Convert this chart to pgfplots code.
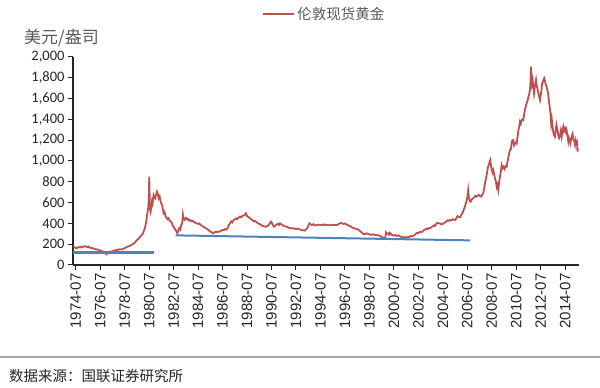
\documentclass[border=0pt]{standalone}
\usepackage{fontspec}
\usepackage{pgfplots}
\pgfplotsset{compat=1.18}
\setmainfont{Carlito}
\newfontfamily\cjk{Noto Sans CJK SC}
\newfontfamily\arialf{Liberation Sans}
\definecolor{goldred}{HTML}{C0504D}
\definecolor{lineblue}{HTML}{4F81BD}
\definecolor{txtgray}{HTML}{595959}
\begin{document}
\begin{tikzpicture}[x=1pt,y=1pt]
\useasboundingbox (0,0) rectangle (600,388);
\begin{axis}[
  at={(73pt,123pt)}, anchor=south west,
  scale only axis, width=505.7pt, height=208pt,
  xmin=1974.28, xmax=2015.6, ymin=0, ymax=2000,
  axis lines*=left,
  axis line style={line width=1.2pt, black!85},
  ytick={0,200,400,600,800,1000,1200,1400,1600,1800,2000},
  xtick={1974.5,1976.5,1978.5,1980.5,1982.5,1984.5,1986.5,1988.5,1990.5,1992.5,1994.5,1996.5,1998.5,2000.5,2002.5,2004.5,2006.5,2008.5,2010.5,2012.5,2014.5},
  xticklabels={1974-07,1976-07,1978-07,1980-07,1982-07,1984-07,1986-07,1988-07,1990-07,1992-07,1994-07,1996-07,1998-07,2000-07,2002-07,2004-07,2006-07,2008-07,2010-07,2012-07,2014-07},
  tick align=outside, major tick length=5pt,
  tick style={line width=1pt, black!85},
  /pgf/number format/.cd, 1000 sep={,}, assume math mode=true, /pgfplots/.cd,
  y tick label style={font=\fontsize{14.5}{14.5}\selectfont, text=black!85},
  x tick label style={rotate=90, anchor=east, font=\arialf\fontsize{15}{15}\selectfont, text=black!85},
  legend style={at={(0.374,1.207)}, anchor=west, draw=none, fill=none,
    font=\cjk\fontsize{14.5}{14.5}\selectfont, text=txtgray, inner sep=0pt},
  legend image code/.code={\draw[#1, line width=2pt] (0pt,0pt) -- (31pt,0pt);},
]
\addplot[goldred, line width=1.8pt] coordinates {
(1974.28,186)(1974.36,175)(1974.45,168)(1974.55,160)(1974.65,166)(1974.75,172)(1974.85,168)(1974.95,175)
(1975.05,170)(1975.15,178)(1975.26,180)(1975.35,176)(1975.45,172)(1975.55,178)(1975.65,168)(1975.75,162)
(1975.85,165)(1975.95,158)(1976.05,155)(1976.15,150)(1976.25,152)(1976.35,146)(1976.45,142)(1976.55,138)
(1976.65,132)(1976.75,130)(1976.85,122)(1976.95,112)(1977.03,103)(1977.12,118)(1977.22,125)(1977.32,130)
(1977.45,128)(1977.55,135)(1977.7,140)(1977.85,144)(1978.0,148)(1978.15,152)(1978.3,150)(1978.45,160)
(1978.6,168)(1978.7,176)(1978.85,180)(1979.0,188)(1979.1,198)(1979.2,205)(1979.3,210)(1979.4,225)
(1979.5,240)(1979.6,248)(1979.7,262)(1979.8,275)(1979.9,288)(1980.0,305)(1980.08,330)(1980.16,360)
(1980.24,400)(1980.3,450)(1980.36,500)(1980.42,545)(1980.47,620)(1980.51,850)(1980.54,680)(1980.57,540)
(1980.62,513)(1980.68,560)(1980.73,609)(1980.78,590)(1980.86,673)(1980.94,650)(1981.0,641)(1981.08,680)
(1981.14,705)(1981.2,690)(1981.28,641)(1981.36,660)(1981.44,610)(1981.5,590)(1981.56,577)(1981.62,540)
(1981.68,497)(1981.76,510)(1981.84,470)(1981.92,455)(1982.0,440)(1982.08,450)(1982.16,430)(1982.24,420)
(1982.34,410)(1982.42,380)(1982.5,368)(1982.58,350)(1982.66,337)(1982.74,320)(1982.8,305)(1982.88,330)
(1982.96,353)(1983.05,340)(1983.12,385)(1983.2,400)(1983.26,481)(1983.3,450)(1983.36,440)(1983.42,433)
(1983.5,455)(1983.58,449)(1983.66,435)(1983.74,440)(1983.82,425)(1983.9,430)(1984.0,420)(1984.1,425)
(1984.2,410)(1984.3,405)(1984.4,400)(1984.5,395)(1984.6,400)(1984.7,385)(1984.8,380)(1984.9,370)
(1985.0,365)(1985.1,355)(1985.2,350)(1985.3,340)(1985.4,330)(1985.5,322)(1985.6,315)(1985.7,305)
(1985.8,310)(1985.9,318)(1986.0,315)(1986.1,322)(1986.2,318)(1986.3,325)(1986.4,330)(1986.5,337)
(1986.6,335)(1986.7,345)(1986.8,340)(1986.9,352)(1987.0,380)(1987.1,400)(1987.2,420)(1987.3,410)
(1987.4,433)(1987.5,440)(1987.6,449)(1987.7,440)(1987.8,455)(1987.9,465)(1988.0,458)(1988.1,470)
(1988.2,475)(1988.3,480)(1988.41,497)(1988.5,470)(1988.6,462)(1988.74,449)(1988.85,440)(1988.95,430)
(1989.05,420)(1989.15,425)(1989.29,410)(1989.4,400)(1989.5,395)(1989.6,390)(1989.7,380)(1989.83,375)
(1989.95,370)(1990.05,368)(1990.15,375)(1990.24,380)(1990.35,400)(1990.45,417)(1990.51,410)(1990.6,385)
(1990.7,368)(1990.78,375)(1990.9,390)(1991.0,395)(1991.1,385)(1991.19,400)(1991.3,390)(1991.4,385)
(1991.5,375)(1991.6,372)(1991.74,368)(1991.85,360)(1991.95,358)(1992.05,355)(1992.15,352)(1992.28,353)
(1992.4,350)(1992.5,345)(1992.6,350)(1992.7,348)(1992.8,342)(1992.9,338)(1993.0,335)(1993.1,335)
(1993.2,330)(1993.3,340)(1993.4,350)(1993.5,375)(1993.6,400)(1993.7,390)(1993.8,385)(1993.91,392)
(1994.0,385)(1994.1,380)(1994.2,385)(1994.3,388)(1994.46,385)(1994.6,383)(1994.7,388)(1994.8,385)
(1994.9,390)(1995.0,384)(1995.15,382)(1995.28,385)(1995.4,387)(1995.5,383)(1995.6,385)(1995.7,386)
(1995.8,384)(1995.9,388)(1996.0,395)(1996.09,400)(1996.2,405)(1996.3,398)(1996.4,395)(1996.5,400)
(1996.6,392)(1996.7,385)(1996.8,380)(1996.9,375)(1997.0,368)(1997.1,360)(1997.2,355)(1997.3,350)
(1997.4,348)(1997.5,345)(1997.6,340)(1997.7,330)(1997.8,320)(1997.9,310)(1998.0,300)(1998.1,295)
(1998.2,300)(1998.27,305)(1998.4,298)(1998.5,295)(1998.6,290)(1998.7,292)(1998.8,295)(1998.9,290)
(1999.0,288)(1999.09,288)(1999.2,285)(1999.3,282)(1999.4,275)(1999.5,270)(1999.6,262)(1999.7,258)
(1999.8,265)(1999.85,312)(1999.91,300)(2000.0,305)(2000.1,290)(2000.18,310)(2000.3,295)(2000.4,285)
(2000.5,282)(2000.6,288)(2000.73,280)(2000.85,285)(2000.95,278)(2001.05,272)(2001.15,268)(2001.25,265)
(2001.35,268)(2001.45,262)(2001.54,266)(2001.65,270)(2001.75,268)(2001.85,280)(2001.95,275)(2002.08,280)
(2002.2,290)(2002.3,300)(2002.4,310)(2002.5,305)(2002.63,320)(2002.75,315)(2002.85,325)(2002.95,335)
(2003.05,340)(2003.15,350)(2003.25,345)(2003.35,355)(2003.45,353)(2003.55,362)(2003.65,370)(2003.75,380)
(2003.85,375)(2003.95,395)(2004.05,405)(2004.15,400)(2004.27,400)(2004.4,390)(2004.5,395)(2004.6,405)
(2004.7,410)(2004.8,420)(2004.9,430)(2005.0,425)(2005.08,433)(2005.2,428)(2005.3,440)(2005.4,435)
(2005.5,432)(2005.6,450)(2005.7,470)(2005.8,460)(2005.9,458)(2006.0,480)(2006.1,500)(2006.2,530)
(2006.3,561)(2006.4,600)(2006.5,650)(2006.57,721)(2006.62,660)(2006.68,620)(2006.77,609)(2006.85,630)
(2006.95,640)(2007.05,650)(2007.15,665)(2007.26,657)(2007.35,670)(2007.45,673)(2007.55,660)(2007.65,657)
(2007.72,680)(2007.8,689)(2007.88,740)(2007.95,790)(2008.03,833)(2008.1,880)(2008.18,940)(2008.25,960)
(2008.32,993)(2008.38,1010)(2008.44,950)(2008.5,913)(2008.56,890)(2008.62,913)(2008.68,880)(2008.76,833)
(2008.84,800)(2008.9,750)(2008.96,770)(2009.03,721)(2009.1,800)(2009.18,860)(2009.24,900)(2009.3,961)
(2009.38,930)(2009.46,945)(2009.54,925)(2009.62,950)(2009.71,945)(2009.78,990)(2009.86,1040)(2009.92,1074)
(2009.98,1106)(2010.05,1110)(2010.12,1170)(2010.18,1200)(2010.25,1202)(2010.32,1150)(2010.4,1170)(2010.47,1180)
(2010.53,1170)(2010.6,1230)(2010.68,1300)(2010.74,1330)(2010.8,1378)(2010.87,1360)(2010.94,1394)(2011.0,1400)
(2011.07,1394)(2011.14,1450)(2011.22,1500)(2011.29,1530)(2011.35,1555)(2011.42,1580)(2011.5,1620)(2011.57,1651)
(2011.63,1700)(2011.67,1780)(2011.7,1907)(2011.73,1800)(2011.78,1740)(2011.84,1780)(2011.89,1715)(2011.95,1650)
(2012.0,1700)(2012.05,1740)(2012.11,1779)(2012.17,1720)(2012.24,1690)(2012.3,1651)(2012.37,1620)(2012.44,1587)
(2012.5,1640)(2012.56,1680)(2012.61,1747)(2012.67,1760)(2012.72,1780)(2012.78,1795)(2012.84,1770)(2012.9,1740)
(2012.97,1715)(2013.03,1690)(2013.1,1650)(2013.15,1600)(2013.19,1555)(2013.25,1500)(2013.3,1450)(2013.35,1362)
(2013.4,1400)(2013.46,1330)(2013.52,1280)(2013.58,1250)(2013.66,1234)(2013.72,1290)(2013.78,1346)(2013.84,1310)
(2013.9,1280)(2013.93,1246)(2014.0,1220)(2014.07,1240)(2014.14,1290)(2014.21,1234)(2014.28,1300)(2014.34,1330)
(2014.4,1290)(2014.48,1314)(2014.55,1280)(2014.6,1300)(2014.66,1260)(2014.75,1186)(2014.8,1220)(2014.86,1200)
(2014.92,1170)(2015.02,1234)(2015.1,1260)(2015.16,1210)(2015.24,1190)(2015.3,1154)(2015.36,1200)(2015.42,1170)
(2015.47,1180)(2015.5,1090)(2015.54,1122)
};
\addlegendentry{伦敦现货黄金}
\addplot[lineblue, line width=3pt, forget plot] coordinates {(1974.28,118)(1980.92,118)};
\addplot[lineblue, line width=2pt, forget plot] coordinates {(1982.67,285)(2006.7,237)};
\end{axis}
\node[anchor=west, font=\cjk\fontsize{17}{17}\selectfont, text=txtgray, inner sep=0pt] at (24,350) {美元/盎司};
\draw[gray!70, line width=1.5pt] (0,31) -- (600,31);
\node[anchor=west, font=\cjk\fontsize{14.5}{14.5}\selectfont, text=black!85, inner sep=0pt] at (9,12) {数据来源：国联证券研究所};
\end{tikzpicture}
\end{document}
